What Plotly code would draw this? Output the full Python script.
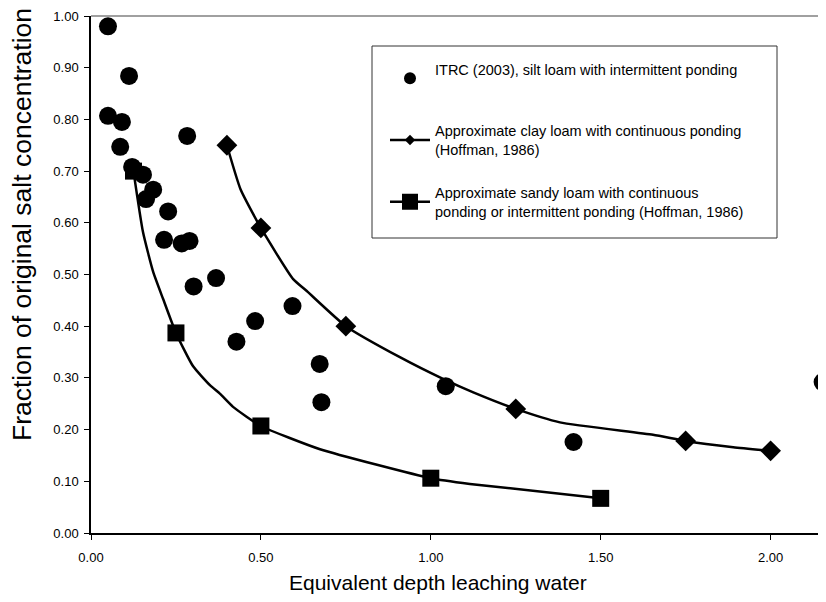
import plotly.graph_objects as go

# ITRC (2003) silt loam, intermittent ponding
itrc_x = [0.05, 0.112, 0.05, 0.091, 0.086, 0.121, 0.153, 0.183, 0.162, 0.227, 0.215, 0.267,
          0.29, 0.283, 0.368, 0.302, 0.593, 0.483, 0.428, 0.673, 0.678, 1.044, 1.42, 2.153]
itrc_y = [0.98, 0.884, 0.807, 0.795, 0.747, 0.708, 0.693, 0.664, 0.646, 0.622, 0.567, 0.560,
          0.565, 0.768, 0.493, 0.477, 0.439, 0.41, 0.37, 0.327, 0.253, 0.284, 0.176, 0.292]

# clay loam, continuous ponding (Hoffman, 1986)
clay_x = [0.4, 0.5, 0.75, 1.25, 1.75, 2.0]
clay_y = [0.75, 0.59, 0.40, 0.24, 0.178, 0.159]
clay_curve_x = [0.4, 0.44, 0.5, 0.595, 0.635, 0.75, 0.909, 1.036, 1.125, 1.25, 1.38, 1.654, 1.75, 1.89, 2.0]
clay_curve_y = [0.75, 0.665, 0.59, 0.491, 0.468, 0.40, 0.34, 0.298, 0.272, 0.24, 0.214, 0.19, 0.178, 0.166, 0.159]

# sandy loam, continuous or intermittent ponding (Hoffman, 1986)
sandy_x = [0.125, 0.25, 0.5, 1.0, 1.5]
sandy_y = [0.70, 0.387, 0.207, 0.106, 0.067]
sandy_curve_x = [0.125, 0.153, 0.183, 0.212, 0.25, 0.30, 0.35, 0.38, 0.418, 0.5, 0.674, 1.0, 1.115, 1.5]
sandy_curve_y = [0.70, 0.582, 0.505, 0.453, 0.387, 0.323, 0.286, 0.269, 0.244, 0.207, 0.162, 0.106, 0.095, 0.067]

FONT = "Liberation Sans, Arial, sans-serif"
names = [
    "ITRC (2003), silt loam with intermittent ponding<br> ",
    "Approximate clay loam with continuous ponding<br>(Hoffman, 1986)",
    "Approximate sandy loam with continuous<br>ponding or intermittent ponding (Hoffman, 1986)",
]

fig = go.Figure()

# curves
for cx, cy in [(clay_curve_x, clay_curve_y), (sandy_curve_x, sandy_curve_y)]:
    fig.add_trace(go.Scatter(x=cx, y=cy, mode="lines", line=dict(color="black", width=2.5, shape="spline", smoothing=0.5),
                             showlegend=False, hoverinfo="skip"))

# markers
fig.add_trace(go.Scatter(x=itrc_x, y=itrc_y, mode="markers", marker=dict(symbol="circle", size=18, color="black"),
                         showlegend=False))
fig.add_trace(go.Scatter(x=clay_x, y=clay_y, mode="markers", marker=dict(symbol="diamond", size=16, color="black"),
                         showlegend=False))
fig.add_trace(go.Scatter(x=sandy_x, y=sandy_y, mode="markers", marker=dict(symbol="square", size=17, color="black"),
                         showlegend=False))

# legend entries
fig.add_trace(go.Scatter(x=[None], y=[None], mode="markers", name=names[0], legendgroup="a",
                         marker=dict(symbol="circle", size=12, color="black")))
fig.add_trace(go.Scatter(x=[None], y=[None], mode="lines+markers", name=names[1], legendgroup="b",
                         line=dict(color="black", width=2.5), marker=dict(symbol="diamond", size=8, color="black")))
fig.add_trace(go.Scatter(x=[None], y=[None], mode="lines+markers", name=names[2], legendgroup="c",
                         line=dict(color="black", width=2.5), marker=dict(symbol="square", size=16, color="black")))

# page body has an 8px margin, so the figure sits at (8, 8) in the window
OX, OY = 8, 8
L, T, W0, H0 = 91 - OX, 16 - OY, 735, 517

fig.add_shape(type="rect", xref="paper", yref="paper",
              x0=(372 - 91) / W0, x1=(777 - 91) / W0, y0=(534 - 239) / H0, y1=(534 - 47) / H0,
              line=dict(color="#333333", width=1), fillcolor="white", layer="below")
fig.add_shape(type="line", xref="paper", yref="paper", x0=0, x1=1, y0=1, y1=1,
              line=dict(color="#808080", width=1.5))

fig.add_annotation(text="Fraction of original salt concentration", textangle=-90, showarrow=False,
                   xref="paper", yref="paper", x=(22 - 91) / W0, y=(534 - 226) / H0,
                   xanchor="center", yanchor="middle", font=dict(size=26.5, family=FONT, color="black"))
fig.add_annotation(text="Equivalent depth leaching water", showarrow=False,
                   xref="paper", yref="paper", x=(438 - 91) / W0, y=(534 - 583) / H0,
                   xanchor="center", yanchor="middle", font=dict(size=21, family=FONT, color="black"))

fig.update_layout(
    width=826 - OX, height=602 - OY,
    margin=dict(l=L, r=0, t=T, b=602 - OY - T - H0),
    paper_bgcolor="white", plot_bgcolor="white",
    font=dict(family=FONT, color="black", size=13),
    showlegend=True,
    legend=dict(x=(385 - 91) / W0, y=(534 - 54) / H0, xanchor="left", yanchor="top",
                bgcolor="rgba(0,0,0,0)", borderwidth=0, tracegroupgap=21,
                font=dict(size=14.5, family=FONT, color="black"), itemwidth=40),
    xaxis=dict(range=[0, 2.163], tickvals=[0, 0.5, 1.0, 1.5, 2.0], tickformat=".2f",
               showgrid=False, zeroline=False, showline=True, linecolor="black", linewidth=1.5,
               ticks="outside", ticklen=5, tickcolor="black", ticklabelstandoff=7),
    yaxis=dict(range=[0, 1.0], dtick=0.1, tickformat=".2f",
               showgrid=False, zeroline=False, showline=True, linecolor="black", linewidth=1.5,
               ticks="outside", ticklen=5, tickcolor="black", ticklabelstandoff=3),
)

fig.write_html("out.html")
